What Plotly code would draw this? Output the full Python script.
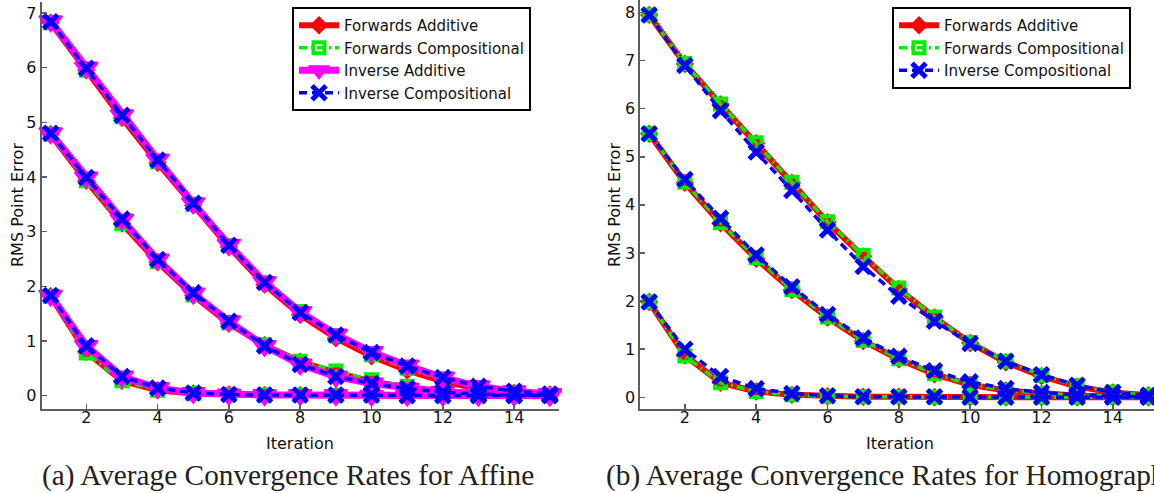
import plotly.graph_objects as go

iterations = list(range(1, 16))

# ---- Affine (panel a): three starting error levels per method ----
aff_fa_high = [6.82, 5.95, 5.08, 4.26, 3.48, 2.72, 2.03, 1.48, 1.05, 0.72, 0.46, 0.26, 0.12, 0.05, 0.02]
aff_fa_mid = [4.78, 3.93, 3.15, 2.44, 1.83, 1.32, 0.92, 0.62, 0.42, 0.26, 0.15, 0.08, 0.04, 0.02, 0.01]
aff_fa_low = [1.82, 0.80, 0.27, 0.10, 0.04, 0.02, 0.01, 0.01, 0.00, 0.00, 0.00, 0.00, 0.00, 0.00, 0.00]

aff_fc_high = [6.82, 5.95, 5.10, 4.28, 3.50, 2.74, 2.07, 1.54, 1.10, 0.75, 0.50, 0.30, 0.15, 0.06, 0.02]
aff_fc_mid = [4.78, 3.93, 3.15, 2.45, 1.84, 1.33, 0.93, 0.63, 0.45, 0.29, 0.17, 0.09, 0.04, 0.02, 0.01]
aff_fc_low = [1.82, 0.78, 0.27, 0.10, 0.04, 0.02, 0.01, 0.01, 0.00, 0.00, 0.00, 0.00, 0.00, 0.00, 0.00]

aff_ia_high = [6.85, 6.00, 5.13, 4.32, 3.52, 2.76, 2.08, 1.53, 1.12, 0.80, 0.55, 0.33, 0.17, 0.08, 0.03]
aff_ia_mid = [4.80, 3.99, 3.22, 2.49, 1.87, 1.36, 0.91, 0.57, 0.35, 0.22, 0.13, 0.07, 0.03, 0.02, 0.01]
aff_ia_low = [1.83, 0.91, 0.35, 0.14, 0.05, 0.02, 0.01, 0.01, 0.01, 0.00, 0.00, 0.00, 0.00, 0.00, 0.00]

aff_ic_high = [6.84, 5.99, 5.13, 4.31, 3.52, 2.75, 2.07, 1.52, 1.11, 0.79, 0.54, 0.33, 0.17, 0.08, 0.03]
aff_ic_mid = [4.80, 3.99, 3.23, 2.49, 1.88, 1.36, 0.91, 0.57, 0.35, 0.22, 0.13, 0.06, 0.03, 0.01, 0.01]
aff_ic_low = [1.83, 0.91, 0.35, 0.14, 0.05, 0.02, 0.01, 0.01, 0.01, 0.01, 0.00, 0.00, 0.00, 0.00, 0.00]

# ---- Homography (panel b) ----
hom_fa_high = [7.95, 6.93, 6.09, 5.28, 4.46, 3.64, 2.93, 2.25, 1.66, 1.13, 0.73, 0.44, 0.22, 0.10, 0.04]
hom_fa_mid = [5.48, 4.46, 3.62, 2.88, 2.23, 1.66, 1.17, 0.79, 0.48, 0.26, 0.14, 0.07, 0.03, 0.02, 0.01]
hom_fa_low = [1.98, 0.87, 0.30, 0.12, 0.05, 0.02, 0.01, 0.01, 0.00, 0.00, 0.00, 0.00, 0.00, 0.00, 0.00]

hom_fc_high = [7.95, 6.94, 6.10, 5.29, 4.47, 3.65, 2.95, 2.27, 1.67, 1.14, 0.75, 0.46, 0.24, 0.11, 0.04]
hom_fc_mid = [5.48, 4.47, 3.63, 2.90, 2.24, 1.67, 1.18, 0.80, 0.49, 0.27, 0.15, 0.08, 0.04, 0.02, 0.01]
hom_fc_low = [1.98, 0.86, 0.30, 0.12, 0.05, 0.02, 0.01, 0.01, 0.00, 0.00, 0.00, 0.00, 0.00, 0.00, 0.00]

hom_ic_high = [7.95, 6.90, 5.96, 5.10, 4.30, 3.48, 2.72, 2.10, 1.58, 1.12, 0.75, 0.47, 0.25, 0.10, 0.04]
hom_ic_mid = [5.48, 4.53, 3.72, 2.96, 2.30, 1.72, 1.23, 0.85, 0.55, 0.32, 0.18, 0.10, 0.05, 0.02, 0.01]
hom_ic_low = [1.98, 1.00, 0.43, 0.18, 0.08, 0.03, 0.01, 0.01, 0.01, 0.00, 0.00, 0.00, 0.00, 0.00, 0.00]

method_names = ["Forwards Additive", "Forwards Compositional", "Inverse Additive", "Inverse Compositional"]
x_tick_vals = [2, 4, 6, 8, 10, 12, 14]
left_y_ticks = [0, 1, 2, 3, 4, 5, 6, 7]
right_y_ticks = [0, 1, 2, 3, 4, 5, 6, 7, 8]
captions = ["(a) Average Convergence Rates for Affine", "(b) Average Convergence Rates for Homography"]

SANS = "DejaVu Sans"
SERIF = "Liberation Serif"

styles = {
    "Forwards Additive": dict(line=dict(color="#ff0000", width=6, dash="solid"),
                              marker=dict(symbol="diamond", size=12, color="#ff0000",
                                          line=dict(color="#ff0000", width=2))),
    "Forwards Compositional": dict(line=dict(color="#00ee00", width=3.5, dash="8px,4px,2px,4px"),
                                   marker=dict(symbol="square-open", size=11, color="#00ee00",
                                               line=dict(color="#00ee00", width=4))),
    "Inverse Additive": dict(line=dict(color="#ff00ff", width=7, dash="solid"),
                             marker=dict(symbol="triangle-down", size=20, color="#ff00ff",
                                         line=dict(color="#ff00ff", width=2))),
    "Inverse Compositional": dict(line=dict(color="#0000ff", width=3.5, dash="8px,5px"),
                                  marker=dict(symbol="x-thin", size=14, color="#0000ff",
                                              line=dict(color="#0000ff", width=5))),
}


def joined(curves):
    xs, ys = [], []
    for c in curves:
        xs += iterations + [None]
        ys += list(c) + [None]
    return xs, ys


panels = [
    ("x", "y", "legend", {
        "Forwards Additive": [aff_fa_high, aff_fa_mid, aff_fa_low],
        "Forwards Compositional": [aff_fc_high, aff_fc_mid, aff_fc_low],
        "Inverse Additive": [aff_ia_high, aff_ia_mid, aff_ia_low],
        "Inverse Compositional": [aff_ic_high, aff_ic_mid, aff_ic_low],
    }),
    ("x2", "y2", "legend2", {
        "Forwards Additive": [hom_fa_high, hom_fa_mid, hom_fa_low],
        "Forwards Compositional": [hom_fc_high, hom_fc_mid, hom_fc_low],
        "Inverse Compositional": [hom_ic_high, hom_ic_mid, hom_ic_low],
    }),
]

fig = go.Figure()
for xa, ya, lg, data in panels:
    for name in method_names:
        if name not in data:
            continue
        xs, ys = joined(data[name])
        st = styles[name]
        fig.add_trace(go.Scatter(
            x=xs, y=ys, mode="lines+markers", name=name,
            line=st["line"], marker=st["marker"],
            xaxis=xa, yaxis=ya, legend=lg, cliponaxis=False,
            connectgaps=False, hoverinfo="skip",
        ))

W, H = 1154, 493
axis_color = "#5e5e5e"
common_axis = dict(showgrid=False, zeroline=False, showline=True, linecolor=axis_color,
                   linewidth=2, ticks="inside", ticklen=5, tickwidth=1.5, tickcolor=axis_color,
                   mirror=False, tickfont=dict(family=SANS, size=16, color="#111"))

y_bottom = (H - 409.3) / H
legend_style = dict(xanchor="left", yanchor="top", bgcolor="white", bordercolor="black",
                    borderwidth=2, font=dict(family=SANS, size=15, color="#111"),
                    tracegroupgap=0, itemwidth=40)

fig.update_layout(
    width=W, height=H,
    margin=dict(l=0, r=0, t=0, b=0),
    paper_bgcolor="white", plot_bgcolor="white",
    showlegend=True,
    xaxis=dict(domain=[41.7 / W, 558.7 / W], range=[0.75, 15.25], tickvals=x_tick_vals,
               anchor="y", ticklabelstandoff=-8, **common_axis),
    yaxis=dict(domain=[y_bottom, (H - 2) / H], range=[-0.25, 7.2], tickvals=left_y_ticks,
               anchor="x", **common_axis),
    xaxis2=dict(domain=[640.3 / W, 1.0], range=[0.75, 15.156], tickvals=x_tick_vals,
                anchor="y2", ticklabelstandoff=-8, **common_axis),
    yaxis2=dict(domain=[y_bottom, 1.0], range=[-0.25, 8.26], tickvals=right_y_ticks,
                anchor="x2", **common_axis),
    legend=dict(x=292 / W, y=(H - 7) / H, **legend_style),
    legend2=dict(x=892 / W, y=(H - 7) / H, **legend_style),
)

ann_font = dict(family=SANS, size=16, color="#111")
annotations = [
    dict(text="Iteration", x=300 / W, y=(H - 443) / H, font=ann_font),
    dict(text="Iteration", x=900 / W, y=(H - 443) / H, font=ann_font),
    dict(text="RMS Point Error", x=17 / W, y=(H - 205) / H, textangle=-90, font=ann_font),
    dict(text="RMS Point Error", x=614 / W, y=(H - 205) / H, textangle=-90, font=ann_font),
    dict(text=captions[0], x=288 / W, y=(H - 475) / H,
         font=dict(family=SERIF, size=29.3, color="#222")),
    dict(text=captions[1], x=893 / W, y=(H - 475) / H,
         font=dict(family=SERIF, size=29.3, color="#222")),
]
for a in annotations:
    a.update(xref="paper", yref="paper", showarrow=False, xanchor="center", yanchor="middle")
fig.update_layout(annotations=annotations)

fig.write_html("out.html",
               config={"displayModeBar": False, "staticPlot": True},
               post_script="document.body.style.margin='0';document.body.style.overflow='hidden';")
